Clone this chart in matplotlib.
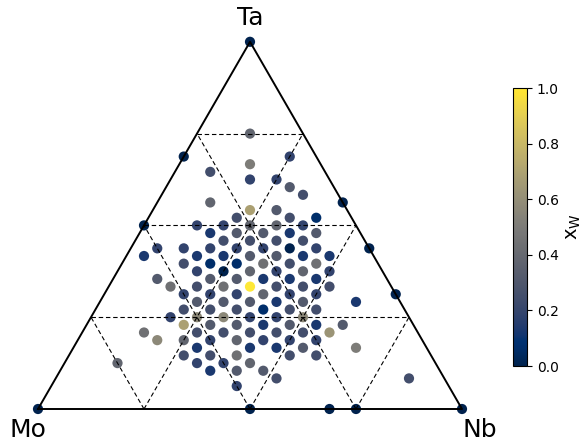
import numpy as np
import matplotlib.pyplot as plt

# alloy compositions, in sixteenths (Mo, Nb, Ta, W)
x_mo = [0, 16, 0, 0, 5, 0, 3, 0, 2, 1, 0, 0, 3, 0, 0, 1, 3, 1, 1,
        8, 5, 4, 2, 1, 1,
        5, 3, 2, 2, 0,
        4, 3, 2, 1,
        7, 6, 3, 1, 0, 5, 4, 3,
        8, 6, 5, 3, 2, 2, 1,
        6, 6, 5, 2, 2, 0,
        6, 6, 3, 3, 1, 1,
        7, 5, 4, 4, 3, 2,
        6, 6, 4, 0, 3, 2, 1,
        7, 6, 5, 3, 3, 2, 0,
        6, 5, 4, 4, 2, 1,
        7, 6, 5, 5, 3, 2,
        8, 5, 4, 5, 4, 1,
        5, 6, 5, 5, 3, 3, 1,
        8, 7, 6, 5, 4, 3, 0,
        7, 7, 7, 5, 5, 4, 3,
        8, 6, 5, 3, 0,
        8, 7, 5, 4, 3,
        10, 8, 7, 5,
        8, 6, 5,
        5, 0,
        7,
        8, 5, 4]
x_nb = [0, 0, 16, 0, 0, 3, 0, 0, 2, 3, 3, 4, 0, 7, 0, 3, 2, 4, 6,
        0, 1, 2, 2, 3, 5,
        2, 2, 3, 5, 5,
        2, 3, 4, 5,
        0, 1, 6, 6, 9, 2, 3, 4,
        0, 2, 3, 3, 4, 6, 7,
        1, 3, 4, 3, 5, 5,
        2, 4, 3, 5, 5, 7,
        0, 2, 3, 5, 6, 7,
        0, 2, 2, 0, 5, 6, 7,
        2, 3, 4, 4, 6, 7, 11,
        2, 3, 4, 6, 6, 9,
        2, 3, 4, 6, 6, 7,
        2, 1, 2, 5, 6, 5,
        0, 3, 4, 6, 6, 8, 8,
        0, 3, 4, 5, 6, 7, 6,
        0, 2, 4, 4, 6, 7, 8,
        4, 6, 7, 7, 8,
        3, 4, 4, 7, 8,
        0, 4, 5, 5,
        5, 5, 6,
        7, 12,
        6,
        8, 11, 12]
x_ta = [16, 0, 0, 10, 11, 10, 9, 8, 9, 9, 8, 8, 7, 9, 5, 7, 7, 7, 8,
        8, 7, 7, 6, 6, 7,
        7, 6, 6, 7, 6,
        6, 6, 6, 6,
        6, 6, 7, 6, 7, 6, 6, 6,
        6, 6, 6, 5, 5, 6, 6,
        5, 6, 6, 4, 5, 4,
        5, 6, 4, 5, 4, 5,
        4, 4, 4, 5, 5, 5,
        3, 4, 3, 0, 4, 4, 4,
        4, 4, 4, 3, 4, 4, 5,
        3, 3, 3, 4, 3, 4,
        3, 3, 3, 4, 3, 3,
        3, 1, 1, 3, 3, 1,
        0, 2, 2, 3, 2, 3, 2,
        1, 2, 2, 2, 2, 2, 0,
        0, 1, 2, 1, 2, 2, 2,
        2, 2, 2, 1, 0,
        1, 1, 0, 1, 1,
        0, 1, 1, 0,
        1, 0, 0,
        0, 0,
        0,
        0, 0, 0]
x_w = [0, 0, 0, 6, 0, 3, 4, 8, 3, 3, 5, 4, 6, 0, 11, 5, 4, 4, 1,
       0, 3, 3, 6, 6, 3,
       2, 5, 5, 2, 5,
       4, 4, 4, 4,
       3, 3, 0, 3, 0, 3, 3, 3,
       2, 2, 2, 5, 5, 2, 2,
       4, 1, 1, 7, 4, 7,
       3, 0, 6, 3, 6, 3,
       5, 5, 5, 2, 2, 2,
       7, 4, 7, 16, 4, 4, 4,
       3, 3, 3, 6, 3, 3, 0,
       5, 5, 5, 2, 5, 2,
       4, 4, 4, 1, 4, 4,
       3, 9, 9, 3, 3, 9,
       11, 5, 5, 2, 5, 2, 5,
       7, 4, 4, 4, 4, 4, 10,
       9, 6, 3, 6, 3, 3, 3,
       2, 2, 2, 5, 8,
       4, 4, 7, 4, 4,
       6, 3, 3, 6,
       2, 5, 5,
       4, 4,
       3,
       0, 0, 0]

mo = np.array(x_mo) / 16
nb = np.array(x_nb) / 16
ta = np.array(x_ta) / 16
w = np.array(x_w) / 16

h = np.sqrt(3) / 2
# Mo (0,0), Nb (1,0), Ta (0.5,h); W is projected onto the centroid
px = nb + 0.5 * ta + 0.5 * w
py = h * (ta + w / 3)

fig = plt.figure(figsize=(5.82, 4.41), dpi=100)
ax = fig.add_axes([38 / 582, 32 / 441, 424 / 582, 424 * h / 441])
ax.set_xlim(0, 1)
ax.set_ylim(0, h)
ax.axis('off')

sc = ax.scatter(px, py, c=w, cmap='cividis', vmin=0, vmax=1, s=54,
                linewidths=0, zorder=2, clip_on=False)

def tern(a, b, c):
    # a=Mo, b=Nb, c=Ta
    return b + 0.5 * c, h * c

# triangle frame
fx, fy = tern(np.array([1, 0, 0, 1]), np.array([0, 1, 0, 0]), np.array([0, 0, 1, 0]))
ax.plot(fx, fy, color='black', lw=1.4, zorder=3, clip_on=False)

# dashed grid at quarter steps
for v in [0.25, 0.5, 0.75]:
    segs = [((1 - v, 0, v), (0, 1 - v, v)),
            ((v, 1 - v, 0), (v, 0, 1 - v)),
            ((1 - v, v, 0), (0, v, 1 - v))]
    for p, q in segs:
        x1, y1 = tern(*p)
        x2, y2 = tern(*q)
        ax.plot([x1, x2], [y1, y2], color='black', lw=0.8, ls=(0, (4, 2.5)),
                zorder=3)

ax.text(0.5, h + 0.057, 'Ta', fontsize=18, ha='center', va='center')
ax.text(-0.024, -0.05, 'Mo', fontsize=18, ha='center', va='center')
ax.text(1.042, -0.05, 'Nb', fontsize=18, ha='center', va='center')

cax = fig.add_axes([513 / 582, 75 / 441, 14 / 582, 278 / 441])
cb = fig.colorbar(sc, cax=cax)
cb.set_ticks([0, 0.2, 0.4, 0.6, 0.8, 1.0])
cb.ax.tick_params(labelsize=10)
cb.set_label(r'x$_\mathrm{W}$', fontsize=14, labelpad=4)

fig.savefig('out.png', dpi=100)
